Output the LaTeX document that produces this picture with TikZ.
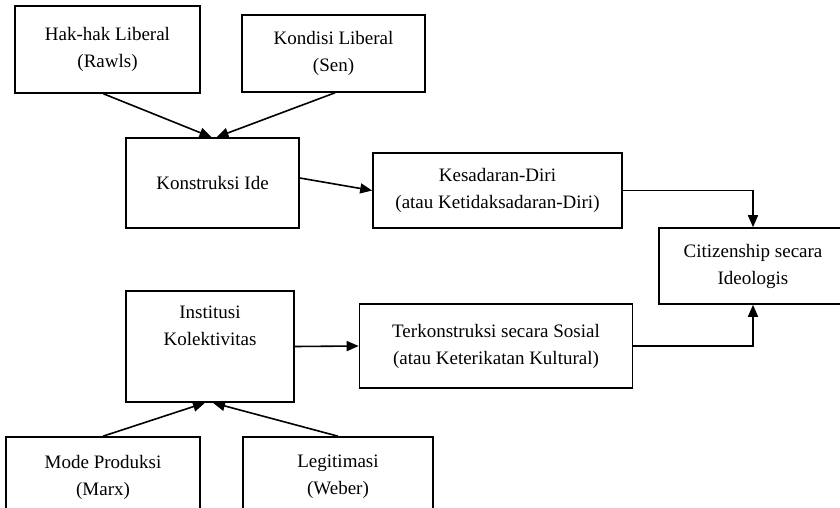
\documentclass[tikz,border=0pt]{standalone}
\usepackage{fontspec}
\setmainfont{Liberation Serif}
\usetikzlibrary{arrows.meta,calc}
\begin{document}
\begin{tikzpicture}[x=1pt,y=-1pt,
  box/.style={draw,line width=1.6pt,inner sep=0pt,align=center,
    font=\fontsize{19}{27}\selectfont},
  link/.style={line width=1.6pt,-{Triangle[length=12pt,width=10pt]}}]
\useasboundingbox (0,0) rectangle (840,508);
\clip (0,0) rectangle (840,508);

% upper branch: sources of ideas
\node[box,minimum width=185pt,minimum height=87pt] (hak) at (107.5,49.5)
  {Hak-hak Liberal\\(Rawls)};
\node[box,minimum width=183pt,minimum height=77pt] (kon) at (333.5,53.5)
  {Kondisi Liberal\\(Sen)};
\node[box,minimum width=173pt,minimum height=90pt] (ide) at (212.5,183)
  {Konstruksi Ide};
\node[box,minimum width=249pt,minimum height=75pt] (kes) at (497.5,190.5)
  {Kesadaran-Diri\\(atau Ketidaksadaran-Diri)};

% outcome
\node[box,minimum width=188pt,minimum height=76pt] (cit) at (753,266)
  {Citizenship secara\\Ideologis};

% lower branch: institutional sources
\node[box,minimum width=168pt,minimum height=111pt] (ins) at (210,346.5)
  {Institusi\\Kolektivitas\\[14pt]\mbox{}};
\node[box,minimum width=273pt,minimum height=84pt] (ter) at (496,346)
  {Terkonstruksi secara Sosial\\(atau Keterikatan Kultural)};
\node[box,minimum width=194pt,minimum height=80pt] (mod) at (103,477)
  {Mode Produksi\\(Marx)};
\node[box,minimum width=190pt,minimum height=80pt] (leg) at (338,477)
  {Legitimasi\\(Weber)};

% connectors
\draw[link] ([xshift=-4pt]hak.south) -- ([xshift=-1pt]ide.north);
\draw[link] ([xshift=1.5pt]kon.south) -- ([xshift=4pt]ide.north);
\draw[link] ([yshift=5pt]ide.east) -- (kes.west);
\draw[link] (kes.east) -| (cit.north);
\draw[link] (ins.east) -- (ter.west);
\draw[link] (ter.east) -| (cit.south);
\draw[link] (mod.north) -- ([xshift=-5pt]ins.south);
\draw[link] (leg.north) -- ([xshift=3pt]ins.south);
\end{tikzpicture}
\end{document}
